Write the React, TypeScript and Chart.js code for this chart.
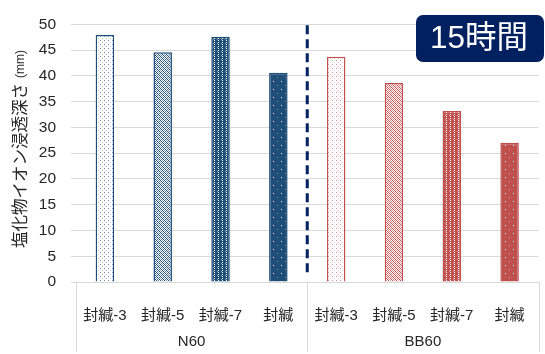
import React, { useEffect, useRef } from "react";
import { Chart, registerables } from "chart.js";

Chart.register(...registerables);

// ---- data ----
const categories = ["封緘-3", "封緘-5", "封緘-7", "封緘", "封緘-3", "封緘-5", "封緘-7", "封緘"];
const groups = ["N60", "BB60"];
const depthN60 = [47.9, 44.6, 47.6, 40.6];
const depthBB60 = [43.7, 38.6, 33.2, 27.0];
const yMin = 0;
const yMax = 50;
const yStep = 5;
const badgeText = "15時間";
const axisTitleMain = "塩化物イオン浸透深さ";
const axisTitleUnit = "(mm)";

// ---- styling ----
const FONT = "'Liberation Sans', 'Noto Sans CJK JP', sans-serif";
const TEXT = "#262626";
const GRID = "#d9d9d9";
const NAVY = "#002060";
const BLUE: [number, number, number] = [31, 78, 121];
const RED: [number, number, number] = [192, 80, 77];

// Fill tiles: '.' is white, digits give the colour's opacity (9 = solid)
const TILES: string[][] = [
  ["6...", "....", "..3.", "...."],
  ["9.5.", ".9.7", "5.9.", ".7.9"],
  ["99.9", "9999", "99.9", "9599"],
  [
    "99999999",
    "9.999999",
    "99999999",
    "99999999",
    "99999999",
    "99999699",
    "99999999",
    "99999999",
  ],
];

function makePattern(rgb: [number, number, number], tile: string[]): CanvasPattern | string {
  const c = document.createElement("canvas");
  c.width = tile[0].length;
  c.height = tile.length;
  const g = c.getContext("2d");
  if (!g) return `rgb(${rgb.join(",")})`;
  g.fillStyle = "#ffffff";
  g.fillRect(0, 0, c.width, c.height);
  tile.forEach((row, yy) => {
    for (let xx = 0; xx < row.length; xx++) {
      const ch = row[xx];
      if (ch === ".") continue;
      const a = Number(ch) / 9;
      g.fillStyle = `rgba(${rgb[0]},${rgb[1]},${rgb[2]},${a})`;
      g.fillRect(xx, yy, 1, 1);
    }
  });
  const p = g.createPattern(c, "repeat");
  return p || `rgb(${rgb.join(",")})`;
}

export default function App() {
  const canvasRef = useRef<HTMLCanvasElement | null>(null);

  useEffect(() => {
    const canvas = canvasRef.current;
    if (!canvas) return;

    const blueFills = TILES.map((t) => makePattern(BLUE, t));
    const redFills = TILES.map((t) => makePattern(RED, t));
    const blueLine = `rgb(${BLUE.join(",")})`;
    const redLine = `rgb(${RED.join(",")})`;

    const overlay = {
      id: "overlay",
      afterDatasetsDraw(chart: any) {
        const { ctx, chartArea, scales } = chart;
        const xs = scales.x;
        const ys = scales.y;
        ctx.save();

        // group separators under the category axis
        ctx.strokeStyle = GRID;
        ctx.lineWidth = 1;
        [-0.5, 3.5, 7.5].forEach((v) => {
          const px = Math.round(xs.getPixelForValue(v)) + 0.5;
          ctx.beginPath();
          ctx.moveTo(px, chartArea.bottom);
          ctx.lineTo(px, chart.height - 2);
          ctx.stroke();
        });

        // group labels
        ctx.fillStyle = TEXT;
        ctx.font = `15px ${FONT}`;
        ctx.textAlign = "center";
        ctx.textBaseline = "middle";
        groups.forEach((g, gi) => {
          const cx = xs.getPixelForValue(gi * 4 + 1.5);
          ctx.fillText(g, cx, 342);
        });

        // dashed divider between the two groups
        const dx = xs.getPixelForValue(3.5);
        ctx.strokeStyle = NAVY;
        ctx.lineWidth = 3;
        ctx.setLineDash([9, 5]);
        ctx.beginPath();
        ctx.moveTo(dx, ys.getPixelForValue(yMax) + 1);
        ctx.lineTo(dx, ys.getPixelForValue(1.7));
        ctx.stroke();
        ctx.restore();
      },
      afterDraw(chart: any) {
        const { ctx } = chart;
        ctx.save();

        // vertical axis title (unit in a smaller size)
        ctx.translate(21, 248);
        ctx.rotate(-Math.PI / 2);
        ctx.fillStyle = TEXT;
        ctx.textAlign = "left";
        ctx.textBaseline = "middle";
        ctx.font = `16.5px ${FONT}`;
        ctx.fillText(axisTitleMain, 0, 0);
        const w1 = ctx.measureText(axisTitleMain).width;
        ctx.font = `12px ${FONT}`;
        ctx.fillText(axisTitleUnit, w1 + 5, 0);
        ctx.restore();

        // duration badge
        ctx.save();
        const bx = 416;
        const by = 15;
        const bw = 128;
        const bh = 47;
        ctx.fillStyle = NAVY;
        ctx.beginPath();
        ctx.roundRect(bx, by, bw, bh, 7);
        ctx.fill();
        ctx.fillStyle = "#ffffff";
        ctx.font = `31.5px ${FONT}`;
        ctx.textAlign = "center";
        ctx.textBaseline = "middle";
        ctx.fillText(badgeText, bx + bw / 2 - 1, by + bh / 2 + 1);
        ctx.restore();
      },
    };

    const chart = new Chart(canvas, {
      type: "bar",
      data: {
        labels: categories,
        datasets: [
          {
            data: [...depthN60, ...depthBB60],
            backgroundColor: [...blueFills, ...redFills] as any,
            borderColor: [blueLine, blueLine, blueLine, blueLine, redLine, redLine, redLine, redLine],
            borderWidth: 1.5,
            barPercentage: 0.32,
            categoryPercentage: 1,
          },
        ],
      },
      options: {
        responsive: false,
        animation: false,
        events: [],
        layout: { padding: { left: 0, right: 6.5, top: 15, bottom: 0 } },
        plugins: {
          legend: { display: false },
          tooltip: { enabled: false },
          title: { display: false },
        },
        scales: {
          x: {
            grid: { display: false },
            border: { display: false },
            ticks: {
              color: TEXT,
              font: { size: 15, family: FONT },
              padding: 17,
              maxRotation: 0,
              autoSkip: false,
            },
            afterFit: (s: any) => {
              s.height = 72;
            },
          },
          y: {
            min: yMin,
            max: yMax,
            ticks: {
              stepSize: yStep,
              color: TEXT,
              font: { size: 15.5, family: FONT },
              padding: 15,
            },
            grid: { color: GRID, lineWidth: 1, tickLength: 5, drawTicks: true },
            border: { display: false },
            afterFit: (s: any) => {
              s.width = 76;
            },
          },
        },
      },
      plugins: [overlay],
    });

    return () => chart.destroy();
  }, []);

  return (
    <div style={{ position: "absolute", left: 0, top: 0, width: 545, height: 354, background: "#fff" }}>
      <canvas ref={canvasRef} width={545} height={354} />
    </div>
  );
}
